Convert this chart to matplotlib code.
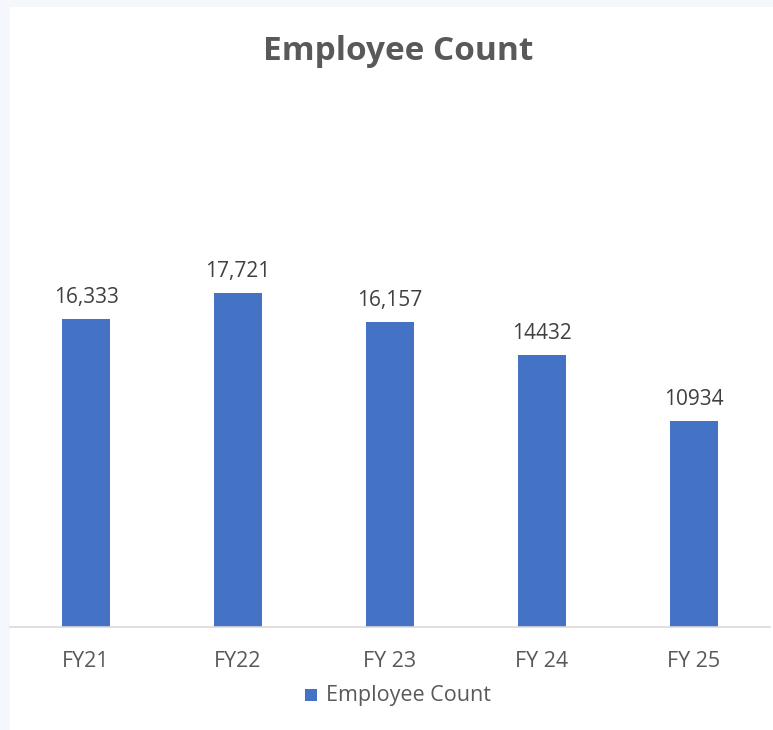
import matplotlib
matplotlib.use("Agg")
import matplotlib.pyplot as plt
from matplotlib.patches import Rectangle

categories = ["FY21", "FY22", "FY 23", "FY 24", "FY 25"]
values = [16333, 17721, 16157, 14432, 10934]
labels = ["16,333", "17,721", "16,157", "14432", "10934"]

W, H = 773, 730
fig = plt.figure(figsize=(W / 100, H / 100), dpi=100)
fig.patch.set_facecolor("#F4F7FB")
# white chart area
fig.add_artist(Rectangle((10 / W, 0), 1, 1 - 7 / H, transform=fig.transFigure,
                         facecolor="white", edgecolor="none", zorder=0))

font = "Open Sans"
ax = fig.add_axes([10 / W, (H - 627) / H, 760 / W, 377 / H])
ax.set_facecolor("none")
bar_color = "#4472C4"
x = range(len(categories))
bars = ax.bar(x, values, width=0.316, color=bar_color, zorder=2)
ax.set_xlim(-0.5, len(categories) - 0.5)
ax.set_ylim(0, 20000)
for xi, v, lab in zip(x, values, labels):
    ax.annotate(lab, (xi, v), xytext=(0, 8), textcoords="offset points",
                ha="center", va="bottom", fontsize=15, color="#404040", family=font)
for s in ["left", "right", "top"]:
    ax.spines[s].set_visible(False)
ax.spines["bottom"].set_color("#D9D9D9")
ax.spines["bottom"].set_linewidth(1.2)
ax.set_yticks([])
ax.set_xticks(list(x))
ax.set_xticklabels(categories, fontsize=15.5, color="#595959", family=font)
ax.tick_params(axis="x", length=0, pad=17)

fig.text(398 / W, 1 - 51 / H, "Employee Count", ha="center", va="center",
         fontsize=24, fontweight="bold", color="#595959", family=font)

# legend
fig.add_artist(Rectangle((305 / W, 1 - 701 / H), 12 / W, 12 / H, transform=fig.transFigure,
                         facecolor=bar_color, edgecolor="none"))
fig.text(326 / W, 1 - 696 / H, "Employee Count", ha="left", va="center",
         fontsize=15.5, color="#595959", family=font)

fig.savefig("out.png", dpi=100)
